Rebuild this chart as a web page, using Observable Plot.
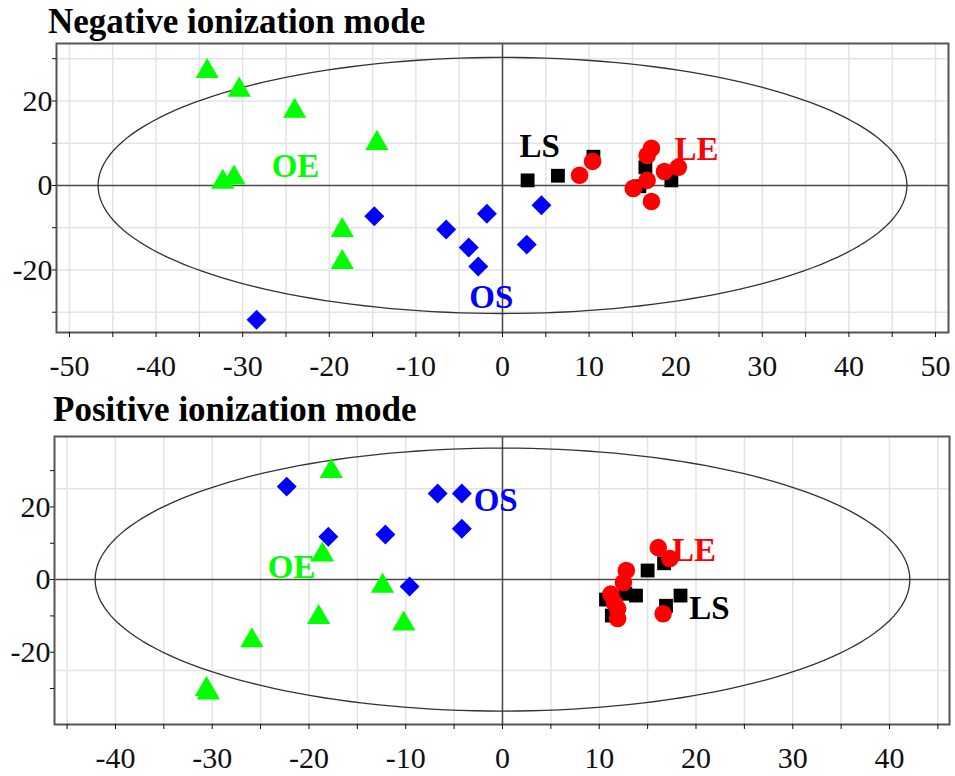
<!DOCTYPE html>
<html><head><meta charset="utf-8">
<script src="https://cdn.jsdelivr.net/npm/d3@7"></script>
<script src="https://cdn.jsdelivr.net/npm/@observablehq/plot@0.6"></script>
<style>
body{margin:0;background:#fff;}
#wrap{position:relative;width:955px;height:776px;overflow:hidden;}
.title{position:absolute;font-family:"Liberation Serif","Times New Roman",serif;font-weight:bold;font-size:35px;line-height:35px;white-space:nowrap;color:#000;}
.panel{position:absolute;left:0;}
.panel svg text{font-family:"Liberation Serif","Times New Roman",serif;}
</style></head><body>
<div id="wrap">
<div class="title" style="left:48px;top:4px">Negative ionization mode</div>
<div class="panel" id="p1" style="top:40px"></div>
<div class="title" style="left:53px;top:392px">Positive ionization mode</div>
<div class="panel" id="p2" style="top:428px"></div>
</div>
<script>
// ---------- Negative ionization mode ----------
const negOE = [[-34.1,27.0],[-30.4,22.6],[-24.0,17.6],[-14.5,10.0],[-32.3,0.8],[-31.0,1.8],[-18.5,-10.6],[-18.5,-18.2]];
const negOS = [[-28.4,-31.8],[-14.8,-7.3],[-6.5,-10.4],[-3.9,-14.7],[-2.8,-19.2],[-1.8,-6.7],[2.8,-14.0],[4.5,-4.7]];
const negLS = [[2.9,1.2],[6.4,2.3],[10.5,6.8],[16.5,4.3],[15.8,-0.2],[19.5,1.2]];
const negLE = [[8.9,2.4],[10.4,5.7],[17.2,8.8],[16.7,7.1],[15.1,-0.7],[16.7,1.2],[17.2,-3.8],[18.7,3.3],[20.3,4.3]];
const negLabels = [["OE",-23.9,4.5],["LS",4.3,9.2],["LE",22.4,8.5],["OS",-1.3,-26.5]];
const negEllipse = [46.7, 30.3];
const negXDomain = [-51.5, 51.5];
const negYDomain = [-34.8, 33.6];
const negXTicks = d3.range(-50, 51, 5);
const negXLabels = [-50,-40,-30,-20,-10,0,10,20,30,40,50];
const negYTicks = [-30,-20,-10,0,10,20,30];
const negYLabels = [-20,0,20];
const negGridX = d3.range(-50, 51, 5);
const negGridY = [-30,-20,-10,10,20,30];

// ---------- Positive ionization mode ----------
const posOE = [[-17.7,29.8],[-18.6,6.8],[-12.4,-1.8],[-19.0,-10.4],[-10.2,-12.2],[-25.9,-16.8],[-30.6,-30.2],[-30.4,-31.2]];
const posOS = [[-22.3,25.6],[-18.0,11.8],[-12.1,12.4],[-9.6,-1.9],[-6.7,23.7],[-4.2,23.7],[-4.2,14.0]];
const posLS = [[15.0,2.5],[16.7,4.5],[13.8,-4.4],[12.7,-3.9],[10.7,-5.5],[11.3,-9.9],[18.4,-4.4],[16.9,-7.2]];
const posLE = [[16.1,8.8],[17.3,5.8],[12.8,2.5],[12.5,-0.8],[11.2,-4.0],[11.6,-6.5],[11.9,-8.0],[11.9,-10.7],[16.6,-9.4]];
const posLabels = [["OS",-0.7,21.8],["OE",-21.8,3.3],["LE",19.8,8.0],["LS",21.4,-8.0]];
const posEllipse = [42.1, 36.2];
const posXDomain = [-46.3, 46.2];
const posYDomain = [-39.9, 39.4];
const posXTicks = d3.range(-45, 46, 5);
const posXLabels = [-40,-30,-20,-10,0,10,20,30,40];
const posYTicks = [-30,-20,-10,0,10,20,30];
const posYLabels = [-20,0,20];
const posGridX = d3.range(-45, 46, 5);
const posGridY = [-25,25];

// ---------- styles ----------
const groupColor = {OE:"#00ff00", OS:"#0000ff", LS:"#000000", LE:"#ff0000"};
const serif = "Liberation Serif, Times New Roman, serif";

function ellipsePoints(a, b) {
  return d3.range(0, 361, 2).map(t => ({x: a * Math.cos(t * Math.PI / 180), y: b * Math.sin(t * Math.PI / 180)}));
}

function panel(cfg) {
  const X = d => d[0], Y = d => d[1];
  return Plot.plot({
    width: 955,
    height: cfg.height,
    marginTop: cfg.mt, marginBottom: cfg.mb, marginLeft: cfg.ml, marginRight: cfg.mr,
    style: {fontFamily: serif, fontSize: "30px", color: "#111", background: "transparent", overflow: "visible"},
    x: {domain: cfg.xDomain},
    y: {domain: cfg.yDomain},
    marks: [
      Plot.ruleX(cfg.gridX, {stroke: "#e3e3e3", strokeWidth: 1.5}),
      Plot.ruleY(cfg.gridY, {stroke: "#e3e3e3", strokeWidth: 1.5}),
      Plot.ruleX([0], {stroke: "#4a4a4a", strokeWidth: 1.5}),
      Plot.ruleY([0], {stroke: "#4a4a4a", strokeWidth: 1.5}),
      Plot.line(ellipsePoints(...cfg.ellipse), {x: "x", y: "y", stroke: "#333", strokeWidth: 1.3}),
      Plot.dot(cfg.OE, {x: X, y: Y, symbol: "triangle", r: 8.6, fill: groupColor.OE}),
      Plot.dot(cfg.OS, {x: X, y: Y, symbol: "diamond2", r: 9, fill: groupColor.OS}),
      Plot.dot(cfg.LS, {x: X, y: Y, symbol: "square", r: 7.8, fill: groupColor.LS}),
      Plot.dot(cfg.LE, {x: X, y: Y, symbol: "circle", r: 8.8, fill: groupColor.LE}),
      Plot.text(cfg.labels, {x: d => d[1], y: d => d[2], text: d => d[0], fill: d => groupColor[d[0]],
        fontSize: 33, fontWeight: "bold", fontFamily: serif}),
      Plot.frame({stroke: "#555", strokeWidth: 2}),
      Plot.axisX({ticks: cfg.xTicks, tickSize: 5, tickPadding: 17, fontSize: 30, fontFamily: serif, label: null,
        tickFormat: d => cfg.xLabels.includes(d) ? String(d) : ""}),
      Plot.axisY({ticks: cfg.yTicks, tickSize: 4, tickPadding: 0, fontSize: 30, fontFamily: serif, label: null,
        tickFormat: d => cfg.yLabels.includes(d) ? String(d) : ""})
    ]
  });
}

document.getElementById("p1").append(panel({
  height: 345, mt: 3, mb: 53, ml: 56, mr: 7,
  xDomain: negXDomain, yDomain: negYDomain,
  gridX: negGridX, gridY: negGridY, ellipse: negEllipse,
  OE: negOE, OS: negOS, LS: negLS, LE: negLE, labels: negLabels,
  xTicks: negXTicks, xLabels: negXLabels, yTicks: negYTicks, yLabels: negYLabels
}));

document.getElementById("p2").append(panel({
  height: 348, mt: 8, mb: 52, ml: 54, mr: 6,
  xDomain: posXDomain, yDomain: posYDomain,
  gridX: posGridX, gridY: posGridY, ellipse: posEllipse,
  OE: posOE, OS: posOS, LS: posLS, LE: posLE, labels: posLabels,
  xTicks: posXTicks, xLabels: posXLabels, yTicks: posYTicks, yLabels: posYLabels
}));
</script>
</body></html>
